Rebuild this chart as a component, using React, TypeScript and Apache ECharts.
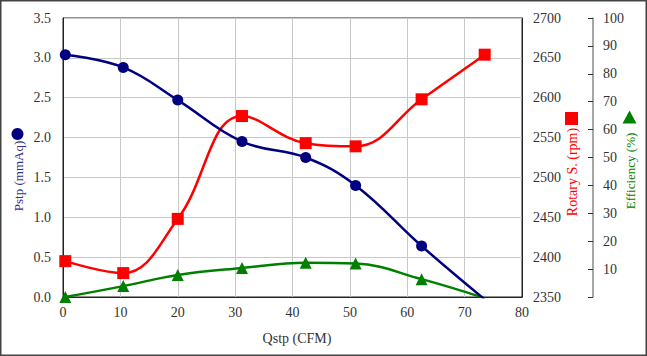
import React, { useEffect, useRef } from "react";
import * as echarts from "echarts";

const qstp = [0.4, 10.5, 20.0, 31.2, 42.3, 51.0, 62.5, 73.5];
const pstp = [3.04, 2.88, 2.47, 1.95, 1.75, 1.4, 0.64, -0.03];
const rpm = [2395, 2380, 2448, 2577, 2543, 2539, 2598, 2654];
const eff = [0, 3.9, 7.9, 10.4, 12.3, 12.0, 6.4, -0.4];

const xTitle = "Qstp (CFM)";
const yTitles = ["Pstp (mmAq)", "Rotary S. (rpm)", "Efficiency (%)"];

const FONT = "Liberation Serif";
const BLUE = "#000080";
const RED = "#ff0000";
const GREEN = "#008000";

export default function App() {
  const ref = useRef<HTMLDivElement>(null);
  useEffect(() => {
    if (!ref.current) return;
    const chart = echarts.init(ref.current, null, { renderer: "svg" });
    const pair = (ys: number[]) => qstp.map((x, i) => [x, ys[i]]);
    const labelStyle = { color: "#333", fontFamily: FONT, fontSize: 14 };
    chart.setOption({
      animation: false,
      backgroundColor: "#fff",
      grid: {
        left: 63,
        right: 125,
        top: 18,
        bottom: 59,
        show: true,
        borderColor: "#222",
        borderWidth: 1,
      },
      xAxis: {
        type: "value",
        min: 0,
        max: 80,
        interval: 10,
        axisLine: { show: true, lineStyle: { color: "#222", width: 1 } },
        axisTick: { show: false },
        axisLabel: { ...labelStyle, margin: 8 },
        splitLine: { show: true, lineStyle: { color: "#c8c8c8", width: 1 } },
      },
      yAxis: [
        {
          type: "value",
          min: 0,
          max: 3.5,
          interval: 0.5,
          position: "left",
          axisLine: { show: true, lineStyle: { color: "#222", width: 1 } },
          axisTick: { show: false },
          axisLabel: { ...labelStyle, margin: 12, formatter: (v: number) => v.toFixed(1) },
          splitLine: { show: true, lineStyle: { color: "#c8c8c8", width: 1 } },
        },
        {
          type: "value",
          min: 2350,
          max: 2700,
          interval: 50,
          position: "right",
          axisLine: { show: true, lineStyle: { color: "#222", width: 1 } },
          axisTick: { show: false },
          axisLabel: { ...labelStyle, margin: 11, formatter: (v: number) => String(v) },
          splitLine: { show: false },
        },
        {
          type: "value",
          min: 0,
          max: 100,
          interval: 10,
          position: "right",
          offset: 71,
          axisLine: { show: true, lineStyle: { color: "#888", width: 1.5 } },
          axisTick: { show: true, inside: true, length: 5, lineStyle: { color: "#333" } },
          axisLabel: {
            ...labelStyle,
            margin: 10,
            formatter: (v: number) => (v === 0 ? "" : String(v)),
          },
          splitLine: { show: false },
        },
      ],
      graphic: [
        {
          type: "rect",
          shape: { x: 0.75, y: 0.75, width: 645.5, height: 354.5 },
          style: { fill: "none", stroke: "#444", lineWidth: 1.5 },
          silent: true,
        },
        {
          type: "text",
          x: 297,
          y: 338,
          style: {
            text: xTitle,
            fill: "#333",
            font: `14px ${FONT}`,
            align: "center",
            verticalAlign: "middle",
          },
        },
        {
          type: "circle",
          shape: { cx: 17.5, cy: 134, r: 6 },
          style: { fill: BLUE },
        },
        {
          type: "text",
          x: 18.5,
          y: 176,
          rotation: Math.PI / 2,
          style: {
            text: yTitles[0],
            fill: "#2e3192",
            font: `13px ${FONT}`,
            align: "center",
            verticalAlign: "middle",
          },
        },
        {
          type: "rect",
          shape: { x: 565, y: 112, width: 13, height: 13 },
          style: { fill: RED },
        },
        {
          type: "text",
          x: 572.5,
          y: 172,
          rotation: Math.PI / 2,
          style: {
            text: yTitles[1],
            fill: RED,
            font: `14px ${FONT}`,
            align: "center",
            verticalAlign: "middle",
          },
        },
        {
          type: "polygon",
          shape: { points: [[629.5, 110.5], [636.5, 123.5], [622.5, 123.5]] },
          style: { fill: GREEN },
        },
        {
          type: "text",
          x: 630,
          y: 171,
          rotation: Math.PI / 2,
          style: {
            text: yTitles[2],
            fill: GREEN,
            font: `13px ${FONT}`,
            align: "center",
            verticalAlign: "middle",
          },
        },
      ],
      series: [
        {
          type: "line",
          yAxisIndex: 2,
          data: pair(eff),
          smooth: 0.4,
          clip: true,
          symbol: "triangle",
          symbolSize: 12,
          lineStyle: { color: GREEN, width: 2.5 },
          itemStyle: { color: GREEN },
        },
        {
          type: "line",
          yAxisIndex: 1,
          data: pair(rpm),
          smooth: 0.4,
          clip: false,
          symbol: "rect",
          symbolSize: 12,
          lineStyle: { color: RED, width: 2.5 },
          itemStyle: { color: RED },
        },
        {
          type: "line",
          yAxisIndex: 0,
          data: pair(pstp),
          smooth: 0.4,
          clip: true,
          symbol: "circle",
          symbolSize: 11,
          lineStyle: { color: BLUE, width: 2.5 },
          itemStyle: { color: BLUE },
        },
      ],
    });
    return () => chart.dispose();
  }, []);
  return (
    <div
      ref={ref}
      style={{ position: "fixed", left: 0, top: 0, width: 647, height: 356 }}
    />
  );
}
